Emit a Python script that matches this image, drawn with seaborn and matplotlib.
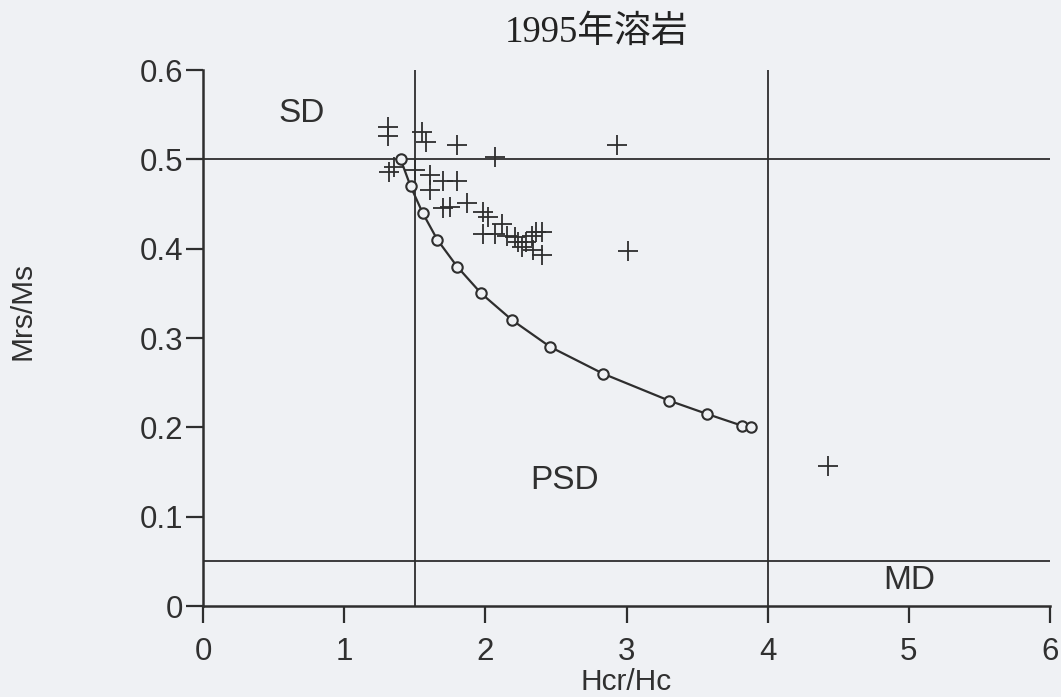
import matplotlib
matplotlib.use("Agg")
import matplotlib.pyplot as plt
import seaborn as sns
import pandas as pd

# Day-plot data for the 1995 lava samples
sample_hcr_hc = [1.31, 1.31, 1.55, 1.58, 1.80, 2.07, 2.93,
                 1.32, 1.35, 1.50, 1.61, 1.70, 1.80, 1.61,
                 1.70, 1.75, 1.87, 1.985, 2.02, 2.12,
                 1.985, 2.07, 2.15, 2.21, 2.23, 2.26, 2.29, 2.33, 2.36, 2.40,
                 2.34, 2.40, 3.01, 4.43]
sample_mrs_ms = [0.536, 0.526, 0.531, 0.519, 0.516, 0.503, 0.516,
                 0.486, 0.491, 0.488, 0.482, 0.476, 0.476, 0.466,
                 0.446, 0.447, 0.451, 0.441, 0.435, 0.428,
                 0.416, 0.416, 0.414, 0.413, 0.408, 0.402, 0.408, 0.414, 0.419, 0.419,
                 0.398, 0.393, 0.397, 0.157]

# SD-MD mixing curve
mix_hcr_hc = [1.40, 1.47, 1.556, 1.66, 1.80, 1.97, 2.19, 2.46, 2.835, 3.30, 3.57, 3.815, 3.88]
mix_mrs_ms = [0.500, 0.470, 0.440, 0.410, 0.380, 0.350, 0.320, 0.290, 0.260, 0.230, 0.215, 0.202, 0.200]

x_ticks = [0, 1, 2, 3, 4, 5, 6]
y_ticks = [0, 0.1, 0.2, 0.3, 0.4, 0.5, 0.6]
y_tick_labels = ["0", "0.1", "0.2", "0.3", "0.4", "0.5", "0.6"]

# Domain boundaries
hcr_bounds = [1.5, 4.0]
mrs_bounds = [0.5, 0.05]

sns.set_theme(style="ticks")
plt.rcParams["font.family"] = ["Liberation Sans", "DejaVu Sans"]

ink = "#2e2e2e"
txt = "#303030"
bg = "#eff1f4"

fig = plt.figure(figsize=(10.61, 6.97), dpi=100, facecolor=bg)
ax = fig.add_axes([203 / 1061, 1 - 606 / 697, (1050 - 203) / 1061, (606 - 70) / 697])
ax.set_facecolor(bg)

samples = pd.DataFrame({"Hcr/Hc": sample_hcr_hc, "Mrs/Ms": sample_mrs_ms})
mixing = pd.DataFrame({"Hcr/Hc": mix_hcr_hc, "Mrs/Ms": mix_mrs_ms})

for xb in hcr_bounds:
    ax.axvline(xb, color=ink, lw=1.3, zorder=1)
for yb in mrs_bounds:
    ax.axhline(yb, color=ink, lw=1.3, zorder=1)

sns.lineplot(data=mixing, x="Hcr/Hc", y="Mrs/Ms", ax=ax, color=ink, lw=1.6,
             marker="o", markersize=7.5, markerfacecolor=bg, markeredgecolor=ink,
             markeredgewidth=1.5, sort=False, zorder=3)
sns.scatterplot(data=samples, x="Hcr/Hc", y="Mrs/Ms", ax=ax, marker="+", s=190,
                color=ink, linewidth=1.3, zorder=4)

ax.set_xlim(0, 6)
ax.set_ylim(0, 0.6)
ax.set_xticks(x_ticks)
ax.set_yticks(y_ticks)
ax.set_yticklabels(y_tick_labels)
sns.despine(ax=ax)
for side in ("left", "bottom"):
    ax.spines[side].set_color(ink)
    ax.spines[side].set_linewidth(1.8)
ax.tick_params(axis="both", direction="out", length=12, width=1.6, color=ink,
               labelsize=22.5, labelcolor=txt)
ax.tick_params(axis="x", pad=10)
ax.tick_params(axis="y", pad=2)

ax.set_xlabel("Hcr/Hc", fontsize=21.5, color=txt)
ax.set_ylabel("Mrs/Ms", fontsize=21.5, color=txt)
ax.xaxis.set_label_coords(0.5, -0.115)
ax.yaxis.set_label_coords(-0.197, 0.55)

ax.text(0.70, 0.551, "SD", fontsize=24, color=txt, ha="center", va="center")
ax.text(2.56, 0.141, "PSD", fontsize=24, color=txt, ha="center", va="center")
ax.text(5.0, 0.029, "MD", fontsize=24, color=txt, ha="center", va="center")

fig.text(597 / 1061, 1 - 33 / 697, "1995年溶岩", fontsize=26.5, color="#222222",
         ha="center", va="center", family=["Liberation Serif", "Noto Sans CJK JP"])

fig.savefig("out.png", dpi=100, facecolor=bg)
